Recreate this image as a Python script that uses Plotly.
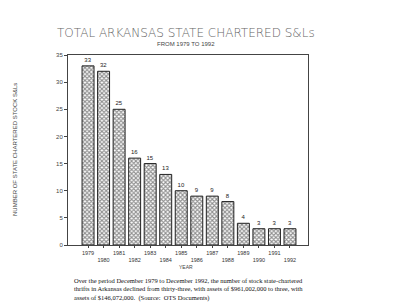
import plotly.graph_objects as go

years = list(range(1979, 1993))
counts = [33, 32, 25, 16, 15, 13, 10, 9, 9, 8, 4, 3, 3, 3]
tick_text = [str(y) if (y % 2 == 1) else "<br>" + str(y) for y in years]
y_ticks = [0, 5, 10, 15, 20, 25, 30, 35]

title = "TOTAL ARKANSAS STATE CHARTERED S&Ls"
subtitle = "FROM 1979 TO 1992"
y_title = "NUMBER OF STATE CHARTERED STOCK S&Ls"
x_title = "YEAR"
caption = ("Over the period December 1979 to December 1992, the number of stock state-chartered<br>"
           "thrifts in Arkansas declined from thirty-three, with assets of $961,002,000 to three, with<br>"
           "assets of $146,072,000.  (Source:  OTS Documents)")

fig = go.Figure()
fig.add_trace(go.Bar(
    x=years, y=counts, width=0.77,
    text=[str(c) for c in counts], textposition="outside",
    textfont=dict(size=6, color="#222", family="Liberation Sans"),
    cliponaxis=False,
    marker=dict(color="white", line=dict(color="#222", width=1),
                pattern=dict(shape="x", fgcolor="#222", bgcolor="white", size=3, solidity=0.6)),
))

fig.update_layout(
    width=400, height=304,
    margin=dict(l=68, r=92, t=55, b=59),
    paper_bgcolor="white", plot_bgcolor="white",
    showlegend=False,
    font=dict(family="Liberation Sans", color="#333"),
)
fig.update_xaxes(range=[1977.71, 1993.16], tickvals=years, ticktext=tick_text, tickangle=0,
                 tickfont=dict(size=5.5, color="#333"), ticks="outside", ticklen=2,
                 tickcolor="#444", showline=True, linecolor="#444", linewidth=1,
                 mirror=True, showgrid=False, zeroline=False)
fig.update_yaxes(range=[0, 35], tickvals=y_ticks, tickfont=dict(size=6, color="#444"),
                 ticks="outside", ticklen=3, tickcolor="#444", showline=True,
                 linecolor="#444", linewidth=1, mirror=True, showgrid=False, zeroline=False)

fig.add_annotation(text=title, xref="paper", yref="paper", x=0.49, y=0, yshift=212,
                   xanchor="center", yanchor="middle", showarrow=False,
                   font=dict(size=12, color="#666", family="DejaVu Sans", weight=300))
fig.add_annotation(text=subtitle, xref="paper", yref="paper", x=0.49, y=0, yshift=201,
                   xanchor="center", yanchor="middle", showarrow=False,
                   font=dict(size=6, color="#444", family="Liberation Sans"))
fig.add_annotation(text=y_title, xref="paper", yref="paper", x=0, xshift=-53, y=0.5,
                   xanchor="center", yanchor="middle", showarrow=False, textangle=-90,
                   font=dict(size=6, color="#444", family="Liberation Sans"))
fig.add_annotation(text=x_title, xref="paper", yref="paper", x=0.49, y=0, yshift=-22,
                   xanchor="center", yanchor="middle", showarrow=False,
                   font=dict(size=5, color="#444", family="Liberation Sans"))
fig.add_annotation(text=caption, xref="paper", yref="paper", x=0, xshift=4, y=0, yshift=-30,
                   xanchor="left", yanchor="top", align="left", showarrow=False,
                   font=dict(size=6.5, color="#111", family="Liberation Serif"))

fig.write_html("out.html")
